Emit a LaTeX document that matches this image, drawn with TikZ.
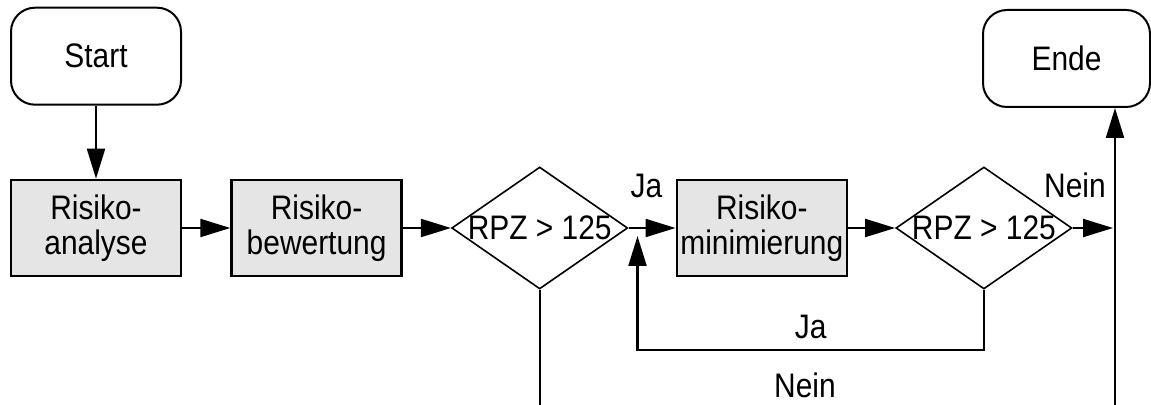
\documentclass[tikz,border=0pt]{standalone}
\usepackage{fontspec}
\setmainfont[FakeStretch=0.88]{Liberation Sans}
\usetikzlibrary{arrows.meta,positioning,shapes.geometric}

\begin{document}
\begin{tikzpicture}[->,>={Triangle[length=15pt,width=9pt]},
  line width=1.1pt,node distance=24pt,
  every node/.style={font=\fontsize{17}{17.5}\selectfont},
  term node/.style={draw,rounded corners=12pt,minimum width=85pt,minimum height=48.5pt,line width=1pt},
  step node/.style={draw,fill=gray!20,align=center,minimum width=85pt,minimum height=48pt,inner sep=0pt,line width=1.3pt},
  test node/.style={draw,diamond,aspect=1.45,minimum width=88pt,minimum height=61pt,inner sep=-2pt,line width=0.8pt}]

  \useasboundingbox (0,0) rectangle (575.5pt,-202.5pt);

  \node[step node] (ana) at (48pt,-114pt) {Risiko-\\analyse};
  \node[term node] (start) [above=36.5pt of ana] {Start};
  \node[step node] (bew) [right=of ana] {Risiko-\\bewertung};
  \node[test node] (rpz1) [right=of bew] {RPZ > 125};
  \coordinate (ja1) at ([xshift=4.5pt]rpz1.east);
  \node[step node] (min) [right=23.5pt of rpz1] {Risiko-\\minimierung};
  \node[test node] (rpz2) [right=23.5pt of min] {RPZ > 125};
  \node[term node,minimum width=83.5pt] (ende) at (533.25pt,-29.25pt) {Ende};

  \coordinate (jn2) at (557.5pt,-114pt);
  \coordinate (out2) at (557.5pt,-202.5pt);
  \coordinate (out1) at (rpz1.south |- out2);
  \coordinate (back) at ([yshift=-61pt]ja1);

  \node (ja top) [anchor=base] at ([xshift=4.5pt,yshift=15pt]ja1) {Ja};
  \node (nein top) [anchor=base] at ([xshift=-20pt,yshift=15pt]jn2) {Nein};
  \node (nein bot) [anchor=base] at (402.5pt,-199pt) {Nein};

  \draw (start) -- (ana);
  \draw (ana) -- (bew);
  \draw (bew) -- (rpz1);
  \draw (rpz1.east) -- (ja1) -- (min.west);
  \draw (min) -- (rpz2);
  \draw[shorten >=1pt] (rpz2.east) -- (jn2);
  \draw[shorten >=4pt] (rpz2.south) |- (back) node (ja bot) [pos=0.75,above=1.5pt] {Ja} -- (ja1);
  \draw[-] (rpz1.south) -- (out1);
  \draw (out2) -- (out2 |- ende.south);

\end{tikzpicture}
\end{document}
